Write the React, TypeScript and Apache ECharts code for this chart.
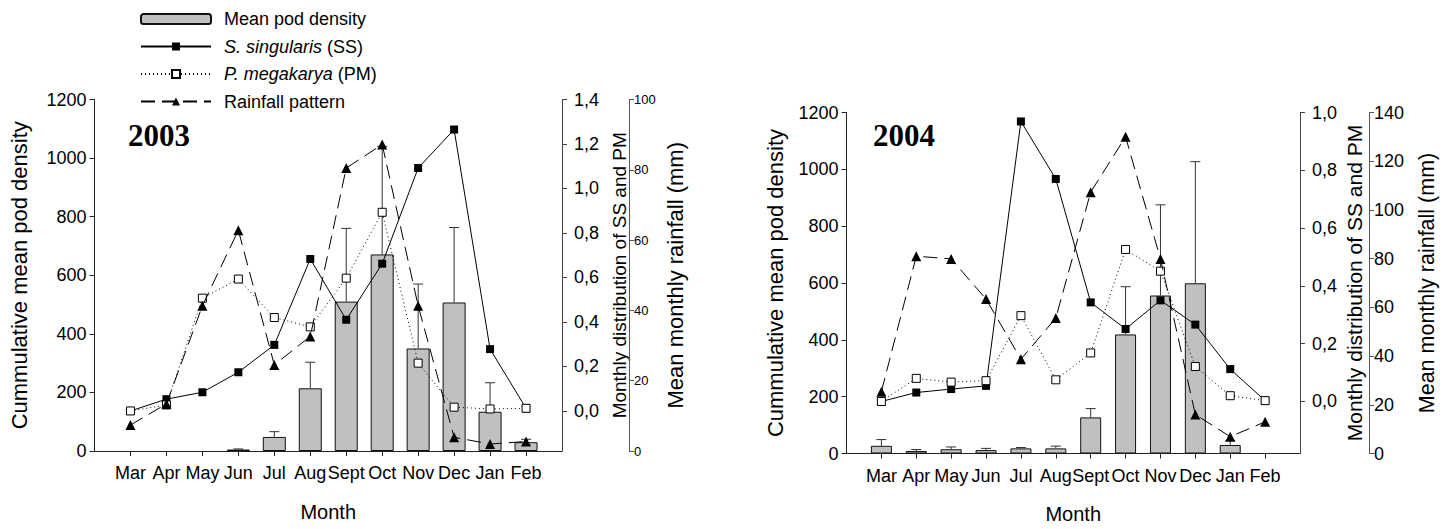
import React, { useEffect, useRef } from "react";
import * as echarts from "echarts";

const months = ["Mar", "Apr", "May", "Jun", "Jul", "Aug", "Sept", "Oct", "Nov", "Dec", "Jan", "Feb"];
const monthPos = [1, 2, 3, 4, 5, 6, 7, 8, 9, 10, 11, 12];

// 2003
const density2003 = [0, 0, 0, 5, 48, 214, 510, 671, 350, 507, 134, 30];
const densityErr2003 = [0, 0, 0, 7, 66, 303, 760, 1040, 570, 763, 233, 40];
const ss2003 = [0.0, 0.053, 0.084, 0.174, 0.297, 0.683, 0.41, 0.662, 1.092, 1.265, 0.278, 0.012];
const pm2003 = [0.0, 0.027, 0.507, 0.593, 0.42, 0.378, 0.597, 0.893, 0.215, 0.017, 0.009, 0.012];
const rain2003 = [7.4, 13.4, 41.3, 62.8, 24.5, 32.6, 80.5, 87.2, 41.3, 3.9, 2.0, 2.7];

// 2004
const density2004 = [27, 9, 15, 12, 18, 18, 127, 419, 556, 599, 30, 0];
const densityErr2004 = [49, 14, 23, 18, 21, 26, 158, 587, 875, 1027, 46, 0];
const ss2004 = [0.0, 0.031, 0.043, 0.054, 0.969, 0.77, 0.343, 0.251, 0.35, 0.266, 0.112, 0.003];
const pm2004 = [0.0, 0.08, 0.067, 0.072, 0.297, 0.075, 0.168, 0.526, 0.451, 0.121, 0.02, 0.003];
const rain2004 = [25.4, 81, 79.9, 63.4, 38.7, 55.6, 107.3, 130, 79.9, 16, 6.9, 13];

const distTicks = [0, 0.2, 0.4, 0.6, 0.8, 1.0, 1.2, 1.4];
const distTicks2004 = [0, 0.2, 0.4, 0.6, 0.8, 1.0];

const NAME_BAR = "Mean pod density";
const NAME_SS = "S. singularis (SS)";
const NAME_PM = "P. megakarya (PM)";
const NAME_RAIN = "Rainfall pattern";

const FONT = "'Liberation Sans', Arial, Helvetica, sans-serif";
const AXIS_COLOR = "#222";

function pairs(vals: number[]) {
  return vals.map((v, i) => [monthPos[i], v]);
}
function barPairs(vals: number[]) {
  // zero-height bars are not drawn in the original figure
  return vals.map((v, i) => [monthPos[i], v > 0 ? v : "-"]);
}
function errTriples(vals: number[], errs: number[]) {
  return vals.map((v, i) => [monthPos[i], v, errs[i]]);
}

const errorRender = (params: any, api: any) => {
  const x = api.value(0);
  const top = api.value(1);
  const err = api.value(2);
  if (!(err > top)) return { type: "group", children: [] };
  const p1 = api.coord([x, top]);
  const p2 = api.coord([x, err]);
  const st = { stroke: "#333", lineWidth: 1 };
  return {
    type: "group",
    children: [
      { type: "line", shape: { x1: p1[0], y1: p1[1], x2: p2[0], y2: p2[1] }, style: st },
      { type: "line", shape: { x1: p2[0] - 5, y1: p2[1], x2: p2[0] + 5, y2: p2[1] }, style: st },
    ],
  };
};

function xAxisDef(gridIndex: number, nameGap: number) {
  return {
    type: "value",
    gridIndex,
    min: 0,
    max: 13,
    interval: 1,
    name: "Month",
    nameLocation: "middle",
    nameGap,
    nameTextStyle: { fontSize: 20, color: "#000", fontFamily: FONT },
    axisLine: { show: true, lineStyle: { color: AXIS_COLOR, width: 1 } },
    axisTick: { show: true, length: 5, customValues: monthPos, lineStyle: { color: AXIS_COLOR } },
    axisLabel: {
      show: true,
      customValues: monthPos,
      margin: 13,
      fontSize: 18,
      color: "#000",
      fontFamily: FONT,
      hideOverlap: false,
      formatter: (v: number) => months[Math.round(v) - 1] ?? "",
    },
    splitLine: { show: false },
  };
}

function leftAxis(gridIndex: number, nameGap: number) {
  return {
    type: "value",
    gridIndex,
    position: "left",
    min: 0,
    max: 1200,
    interval: 200,
    name: "Cummulative mean pod density",
    nameLocation: "middle",
    nameRotate: 90,
    nameGap,
    nameTextStyle: { fontSize: 22, color: "#000", fontFamily: FONT },
    axisLine: { show: true, lineStyle: { color: AXIS_COLOR } },
    axisTick: { show: true, length: 5, lineStyle: { color: AXIS_COLOR } },
    axisLabel: {
      fontSize: 18,
      color: "#000",
      fontFamily: FONT,
      margin: 8,
      formatter: (v: number) => String(Math.round(v)),
    },
    splitLine: { show: false },
  };
}

function distAxis(gridIndex: number, max: number, ticks: number[], nameGap: number, nameSize: number) {
  return {
    type: "value",
    gridIndex,
    position: "right",
    min: -0.18,
    max,
    name: "Monthly distribution of SS and PM",
    nameLocation: "middle",
    nameRotate: 90,
    nameGap,
    nameTextStyle: { fontSize: nameSize, color: "#000", fontFamily: FONT },
    axisLine: { show: true, onZero: false, lineStyle: { color: "#444" } },
    axisTick: { show: true, length: 5, customValues: ticks, lineStyle: { color: "#444" } },
    axisLabel: {
      customValues: ticks,
      fontSize: 18,
      color: "#000",
      fontFamily: FONT,
      margin: 12,
      formatter: (v: number) => v.toFixed(1).replace(".", ","),
    },
    splitLine: { show: false },
  };
}

function rainAxis(
  gridIndex: number,
  max: number,
  offset: number,
  labelSize: number,
  nameGap: number,
  nameSize: number
) {
  return {
    type: "value",
    gridIndex,
    position: "right",
    offset,
    min: 0,
    max,
    interval: 20,
    name: "Mean monthly rainfall (mm)",
    nameLocation: "middle",
    nameRotate: 90,
    nameGap,
    nameTextStyle: { fontSize: nameSize, color: "#000", fontFamily: FONT },
    axisLine: { show: true, onZero: false, lineStyle: { color: "#555" } },
    axisTick: { show: true, length: 5, lineStyle: { color: "#555" } },
    axisLabel: { fontSize: labelSize, color: "#000", fontFamily: FONT, margin: 5 },
    splitLine: { show: false },
  };
}

function seriesFor(
  xIdx: number,
  yLeft: number,
  yDist: number,
  yRain: number,
  dens: number[],
  errs: number[],
  ss: number[],
  pm: number[],
  rain: number[],
  barWidth: number
) {
  return [
    {
      name: NAME_BAR,
      type: "bar",
      xAxisIndex: xIdx,
      yAxisIndex: yLeft,
      barWidth,
      itemStyle: { color: "#c0c0c0", borderColor: "#111", borderWidth: 1 },
      data: barPairs(dens),
      z: 2,
    },
    {
      name: "err" + xIdx,
      type: "custom",
      xAxisIndex: xIdx,
      yAxisIndex: yLeft,
      renderItem: errorRender,
      encode: { x: 0, y: [1, 2] },
      data: errTriples(dens, errs),
      z: 3,
    },
    {
      name: NAME_SS,
      type: "line",
      xAxisIndex: xIdx,
      yAxisIndex: yDist,
      symbol: "rect",
      symbolSize: 8,
      itemStyle: { color: "#000", borderColor: "#000", borderWidth: 0 },
      lineStyle: { color: "#000", width: 1, type: "solid" },
      data: pairs(ss),
      z: 4,
    },
    {
      name: NAME_PM,
      type: "line",
      xAxisIndex: xIdx,
      yAxisIndex: yDist,
      symbol: "rect",
      symbolSize: 8,
      itemStyle: { color: "#fff", borderColor: "#000", borderWidth: 1 },
      lineStyle: { color: "#000", width: 1, type: [1, 3] },
      data: pairs(pm),
      z: 5,
    },
    {
      name: NAME_RAIN,
      type: "line",
      xAxisIndex: xIdx,
      yAxisIndex: yRain,
      symbol: "triangle",
      symbolSize: 10,
      itemStyle: { color: "#000", borderColor: "#000", borderWidth: 0 },
      lineStyle: { color: "#000", width: 1, type: [14, 7] },
      data: pairs(rain),
      z: 6,
    },
  ];
}

export default function App() {
  const ref = useRef<HTMLDivElement>(null);

  useEffect(() => {
    if (!ref.current) return;
    const chart = echarts.init(ref.current, undefined, { renderer: "svg" });
    const option: any = {
      animation: false,
      backgroundColor: "#fff",
      textStyle: { fontFamily: FONT, color: "#000" },
      legend: {
        orient: "vertical",
        left: 135,
        top: 5,
        itemWidth: 70,
        itemHeight: 10,
        itemGap: 9.5,
        data: [NAME_BAR, NAME_SS, NAME_PM, NAME_RAIN],
        selectedMode: false,
        textStyle: {
          fontSize: 18,
          lineHeight: 18,
          color: "#000",
          fontFamily: FONT,
          padding: [0, 0, 0, 8],
          rich: {
            i: { fontStyle: "italic", fontSize: 18, color: "#000", fontFamily: FONT },
            n: { fontSize: 18, color: "#000", fontFamily: FONT },
          },
        },
        formatter: (name: string) => {
          if (name === NAME_SS) return "{i|S. singularis}{n| (SS)}";
          if (name === NAME_PM) return "{i|P. megakarya}{n| (PM)}";
          return "{n|" + name + "}";
        },
      },
      grid: [
        { left: 94.5, top: 99.5, width: 467.5, height: 351.5, containLabel: false, outerBoundsMode: "none" },
        { left: 846.5, top: 112.5, width: 453.5, height: 341, containLabel: false, outerBoundsMode: "none" },
      ],
      xAxis: [xAxisDef(0, 51), xAxisDef(1, 50)],
      yAxis: [
        leftAxis(0, 64),
        distAxis(0, 1.4, distTicks, 48, 19),
        rainAxis(0, 100, 67, 13, 35, 22),
        leftAxis(1, 60),
        distAxis(1, 1.0, distTicks2004, 44, 21),
        rainAxis(1, 140, 69, 18, 47, 21.5),
      ],
      graphic: [
        {
          type: "text",
          left: 128,
          top: 120,
          style: { text: "2003", font: "bold 31px 'Liberation Serif', 'Times New Roman', serif", fill: "#000" },
        },
        {
          type: "text",
          left: 873,
          top: 120,
          style: { text: "2004", font: "bold 31px 'Liberation Serif', 'Times New Roman', serif", fill: "#000" },
        },
      ],
      series: [
        ...seriesFor(0, 0, 1, 2, density2003, densityErr2003, ss2003, pm2003, rain2003, 23),
        ...seriesFor(1, 3, 4, 5, density2004, densityErr2004, ss2004, pm2004, rain2004, 21),
      ],
    };
    chart.setOption(option);
    return () => chart.dispose();
  }, []);

  return (
    <div
      ref={ref}
      style={{ position: "fixed", left: 0, top: 0, width: 1450, height: 529, background: "#fff" }}
    />
  );
}
